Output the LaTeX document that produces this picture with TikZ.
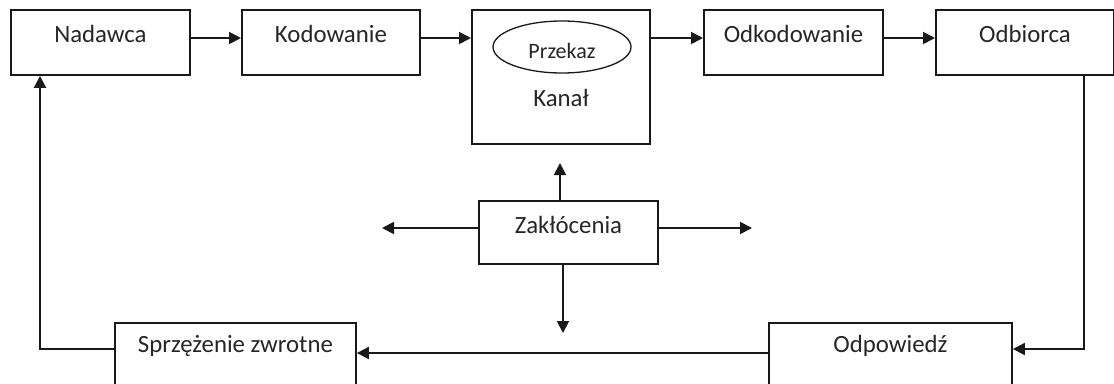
\documentclass[tikz,border=0pt]{standalone}
\usepackage{fontspec}
\setmainfont{Carlito}
\usetikzlibrary{arrows.meta,shapes.geometric}
\begin{document}
\begin{tikzpicture}[x=1pt,y=-1pt,
  box/.style={draw=black!90,line width=1.9pt,rectangle,inner sep=0pt,anchor=north west,
    font=\fontsize{24.8}{28}\selectfont,text=black!85,text height=33pt,text depth=32pt},
  arr/.style={draw=black!90,line width=1.9pt,-{Triangle[length=12pt,width=12pt]}}]
\useasboundingbox (0,0) rectangle (1114,383);
\fill[white] (0,0) rectangle (1114,383);
\clip (0,0) rectangle (1114,383);

\node[box,minimum width=179pt] (nad) at (10,9) {Nadawca};
\node[box,minimum width=178pt] (kod) at (241,9) {Kodowanie};
\node[box,minimum width=178pt,text height=97pt,text depth=37pt] (kan) at (471,9) {Kanał};
\node[draw=black!90,ellipse,line width=1.3pt,minimum width=138pt,minimum height=52pt,inner sep=0pt,
  font=\fontsize{22}{24}\selectfont,text=black!85,text height=22pt,text depth=0pt] (prz) at (562,47) {Przekaz};
\node[box,minimum width=179pt] (odk) at (703,9) {Odkodowanie};
\node[box,minimum width=178pt] (odb) at (935,9) {Odbiorca};
\node[box,minimum width=179pt,text height=33pt,text depth=30pt] (zak) at (478,200) {Zakłócenia};
\node[box,minimum width=241pt,text height=30pt,text depth=35pt] (spr) at (114,322) {Sprzężenie zwrotne};
\node[box,minimum width=243pt,text height=30pt,text depth=35pt] (odp) at (768,322) {Odpowiedź};

\coordinate (ya) at (0,38);
\coordinate (c1) at (1084,349);
\coordinate (c2) at (0,353);
\coordinate (c3) at (40,349);
\coordinate (zu) at (560,163);
\coordinate (zd) at (563,333);
\coordinate (zl) at (382,228);
\coordinate (zr) at (752,228);

\draw[arr] (nad.east |- ya) -- (kod.west |- ya);
\draw[arr] (kod.east |- ya) -- (kan.west |- ya);
\draw[arr] (kan.east |- ya) -- (odk.west |- ya);
\draw[arr] (odk.east |- ya) -- (odb.west |- ya);

\draw[arr] (odb.south -| c1) -- (c1) -- (odp.east |- c1);
\draw[arr] (odp.west |- c2) -- (spr.east |- c2);
\draw[arr] (spr.west |- c3) -- (c3) -- (nad.south -| c3);

\draw[arr] (zak.north -| zu) -- (zu);
\draw[arr] (zak.south -| zd) -- (zd);
\draw[arr] (zak.west |- zl) -- (zl);
\draw[arr] (zak.east |- zr) -- (zr);
\end{tikzpicture}
\end{document}
